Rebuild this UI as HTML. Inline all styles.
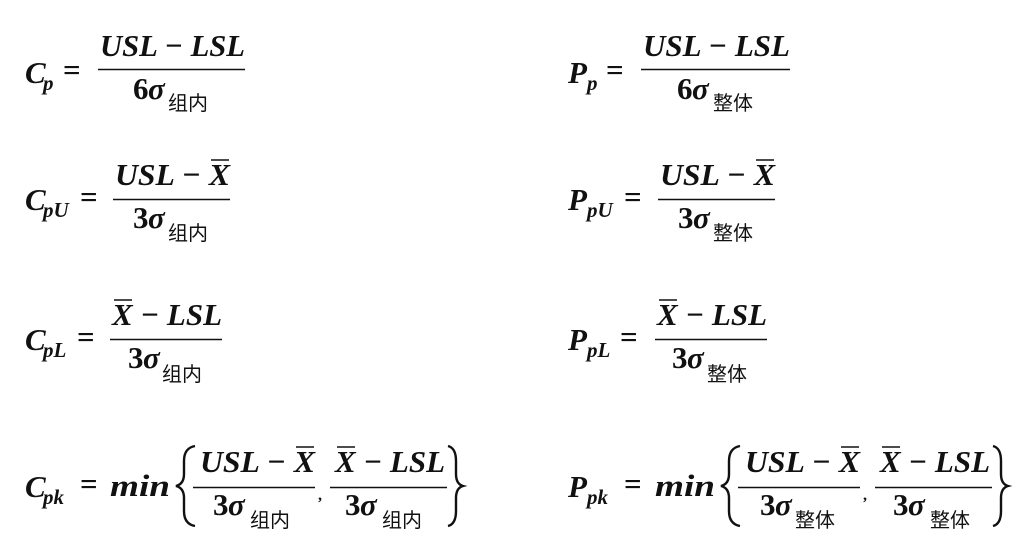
<!DOCTYPE html>
<html><head><meta charset="utf-8"><style>
html,body{margin:0;padding:0;background:#fff;width:1033px;height:549px;overflow:hidden}
svg{display:block}
.m{font-family:"Liberation Serif",serif;font-weight:bold;font-style:italic;font-size:31px;fill:#111}
.n{font-family:"Liberation Serif",serif;font-weight:bold;font-size:31px;fill:#111}
.s{font-family:"Liberation Serif",serif;font-weight:bold;font-style:italic;font-size:21px;fill:#111}
.c{font-family:"Liberation Sans","Noto Sans CJK SC",sans-serif;font-size:20px;fill:#111}
line{stroke:#111;stroke-width:1.6}
path.br{fill:none;stroke:#111;stroke-width:2.4}
</style></head><body>
<svg width="1033" height="549" xmlns="http://www.w3.org/2000/svg">
<text class="m" x="25" y="83">C</text><text class="s" x="43" y="90">p</text>
<text class="n" x="63" y="80">=</text>
<text class="m" x="100" y="56" textLength="145" lengthAdjust="spacingAndGlyphs">USL − LSL</text>
<line x1="98" y1="69.5" x2="245" y2="69.5"/>
<text class="n" x="133" y="99">6</text><text class="m" x="148" y="99">σ</text>
<text class="c" x="168" y="110">组内</text>

<text class="m" x="568" y="83">P</text><text class="s" x="587" y="90">p</text>
<text class="n" x="606" y="80">=</text>
<text class="m" x="643" y="56" textLength="147" lengthAdjust="spacingAndGlyphs">USL − LSL</text>
<line x1="641" y1="69.5" x2="790" y2="69.5"/>
<text class="n" x="677" y="99">6</text><text class="m" x="692" y="99">σ</text>
<text class="c" x="713" y="110">整体</text>

<text class="m" x="25" y="210">C</text><text class="s" x="43" y="217">pU</text>
<text class="n" x="80" y="207">=</text>
<text class="m" x="115" y="185" textLength="115" lengthAdjust="spacingAndGlyphs">USL − X</text>
<line x1="211" y1="160" x2="229" y2="160"/>
<line x1="113" y1="199.5" x2="230" y2="199.5"/>
<text class="n" x="133" y="228">3</text><text class="m" x="148" y="228">σ</text>
<text class="c" x="168" y="240">组内</text>

<text class="m" x="568" y="210">P</text><text class="s" x="587" y="217">pU</text>
<text class="n" x="624" y="207">=</text>
<text class="m" x="660" y="185" textLength="115" lengthAdjust="spacingAndGlyphs">USL − X</text>
<line x1="756" y1="160" x2="774" y2="160"/>
<line x1="658" y1="199.5" x2="775" y2="199.5"/>
<text class="n" x="678" y="228">3</text><text class="m" x="693" y="228">σ</text>
<text class="c" x="713" y="240">整体</text>

<text class="m" x="25" y="350">C</text><text class="s" x="43" y="357">pL</text>
<text class="n" x="77" y="347">=</text>
<text class="m" x="112" y="325" textLength="110" lengthAdjust="spacingAndGlyphs">X − LSL</text>
<line x1="114" y1="300" x2="132" y2="300"/>
<line x1="110" y1="339.5" x2="222" y2="339.5"/>
<text class="n" x="128" y="368">3</text><text class="m" x="143" y="368">σ</text>
<text class="c" x="162" y="381">组内</text>

<text class="m" x="568" y="350">P</text><text class="s" x="587" y="357">pL</text>
<text class="n" x="620" y="347">=</text>
<text class="m" x="657" y="325" textLength="110" lengthAdjust="spacingAndGlyphs">X − LSL</text>
<line x1="659" y1="300" x2="677" y2="300"/>
<line x1="655" y1="339.5" x2="767" y2="339.5"/>
<text class="n" x="672" y="368">3</text><text class="m" x="687" y="368">σ</text>
<text class="c" x="707" y="381">整体</text>

<text class="m" x="25" y="497">C</text><text class="s" x="43" y="504">pk</text>
<text class="n" x="80" y="494">=</text>
<text class="m" x="110" y="496" textLength="60" lengthAdjust="spacingAndGlyphs">min</text>
<path class="br" d="M195,446 Q184,448 184,461 L184,474 Q184,484 176,486 Q184,488 184,498 L184,511 Q184,524 195,526"/>
<text class="m" x="200" y="472" textLength="115" lengthAdjust="spacingAndGlyphs">USL − X</text>
<line x1="296" y1="447" x2="314" y2="447"/>
<line x1="193" y1="487.5" x2="315" y2="487.5"/>
<text class="n" x="213" y="515">3</text><text class="m" x="228" y="515">σ</text>
<text class="c" x="250" y="527">组内</text>
<text class="n" x="318" y="500" style="font-size:16px">,</text>
<text class="m" x="335" y="472" textLength="110" lengthAdjust="spacingAndGlyphs">X − LSL</text>
<line x1="337" y1="447" x2="355" y2="447"/>
<line x1="330" y1="487.5" x2="447" y2="487.5"/>
<text class="n" x="345" y="515">3</text><text class="m" x="360" y="515">σ</text>
<text class="c" x="382" y="527">组内</text>
<path class="br" d="M448,446 Q456,448 456,461 L456,474 Q456,484 463,486 Q456,488 456,498 L456,511 Q456,524 448,526"/>

<text class="m" x="568" y="497">P</text><text class="s" x="587" y="504">pk</text>
<text class="n" x="624" y="494">=</text>
<text class="m" x="655" y="496" textLength="60" lengthAdjust="spacingAndGlyphs">min</text>
<path class="br" d="M740,446 Q729,448 729,461 L729,474 Q729,484 721,486 Q729,488 729,498 L729,511 Q729,524 740,526"/>
<text class="m" x="745" y="472" textLength="115" lengthAdjust="spacingAndGlyphs">USL − X</text>
<line x1="841" y1="447" x2="859" y2="447"/>
<line x1="738" y1="487.5" x2="860" y2="487.5"/>
<text class="n" x="760" y="515">3</text><text class="m" x="775" y="515">σ</text>
<text class="c" x="795" y="527">整体</text>
<text class="n" x="863" y="500" style="font-size:16px">,</text>
<text class="m" x="880" y="472" textLength="110" lengthAdjust="spacingAndGlyphs">X − LSL</text>
<line x1="882" y1="447" x2="900" y2="447"/>
<line x1="875" y1="487.5" x2="992" y2="487.5"/>
<text class="n" x="893" y="515">3</text><text class="m" x="908" y="515">σ</text>
<text class="c" x="930" y="527">整体</text>
<path class="br" d="M993,446 Q1001,448 1001,461 L1001,474 Q1001,484 1008,486 Q1001,488 1001,498 L1001,511 Q1001,524 993,526"/>
</svg>
</body></html>
